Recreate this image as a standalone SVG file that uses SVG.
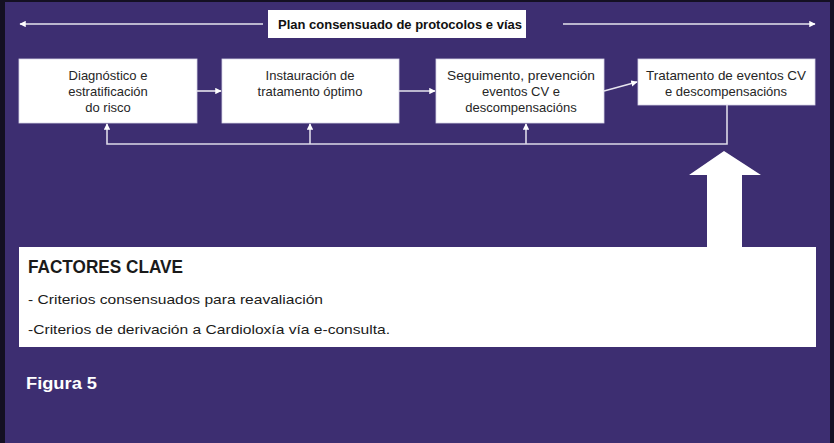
<svg xmlns="http://www.w3.org/2000/svg" width="834" height="443" viewBox="0 0 834 443">
  <style>
    .box { fill: #ffffff; stroke: #d8d4e8; stroke-width: 0.8; }
    .t { font-family: "Liberation Sans", Arial, sans-serif; font-size: 13px; fill: #262626; text-anchor: middle; }
    .title { font-family: "Liberation Sans", Arial, sans-serif; font-size: 12px; font-weight: bold; fill: #111; text-anchor: middle; }
    .con { stroke: #e6e4ee; stroke-width: 1.6; fill: none; }
    .fb { stroke: #dcd9e8; stroke-width: 1.6; fill: none; }
    .kt { font-family: "Liberation Sans", Arial, sans-serif; fill: #1a1a1a; }
  </style>
  <defs>
    <marker id="ah" viewBox="0 0 10 10" refX="9" refY="5" markerWidth="4" markerHeight="4" orient="auto" markerUnits="strokeWidth">
      <path d="M0,0 L10,5 L0,10 z" fill="#ffffff"/>
    </marker>
  </defs>
  <rect x="0" y="0" width="834" height="443" fill="#141022"/>
  <rect x="5" y="2" width="825" height="441" fill="#3d2e71"/>

  <g id="title">
    <rect x="268" y="10" width="258" height="28" fill="#ffffff"/>
    <text class="title" x="400" y="28.5" textLength="244" lengthAdjust="spacingAndGlyphs">Plan consensuado de protocolos e vías</text>
  </g>

  <g id="node1">
    <rect class="box" x="19" y="59" width="178" height="64"/>
    <text class="t" x="108" y="80">Diagnóstico e</text>
    <text class="t" x="108" y="96">estratificación</text>
    <text class="t" x="108" y="111.5">do risco</text>
  </g>
  <g id="node2">
    <rect class="box" x="222" y="59" width="177" height="64"/>
    <text class="t" x="310" y="80">Instauración de</text>
    <text class="t" x="310" y="96">tratamento óptimo</text>
  </g>
  <g id="node3">
    <rect class="box" x="436" y="59" width="168" height="64"/>
    <text class="t" x="521" y="80" textLength="148" lengthAdjust="spacingAndGlyphs">Seguimento, prevención</text>
    <text class="t" x="521" y="96">eventos CV e</text>
    <text class="t" x="521" y="111.5">descompensacións</text>
  </g>
  <g id="node4">
    <rect class="box" x="638" y="59" width="177" height="46"/>
    <text class="t" x="726" y="80" textLength="160" lengthAdjust="spacingAndGlyphs">Tratamento de eventos CV</text>
    <text class="t" x="726" y="96">e descompensacións</text>
  </g>

  <g id="connectors">
    <line class="con" x1="263" y1="24" x2="20" y2="24" marker-end="url(#ah)"/>
    <line class="con" x1="563" y1="24" x2="815" y2="24" marker-end="url(#ah)"/>
    <line class="con" x1="197" y1="91" x2="221" y2="91" marker-end="url(#ah)"/>
    <line class="con" x1="399" y1="91" x2="435" y2="91" marker-end="url(#ah)"/>
    <line class="con" x1="604" y1="91" x2="637" y2="82" marker-end="url(#ah)"/>
    <polyline class="fb" points="727,105 727,144 107,144 107,124" marker-end="url(#ah)"/>
    <line class="fb" x1="310" y1="144" x2="310" y2="124" marker-end="url(#ah)"/>
    <line class="fb" x1="526" y1="144" x2="526" y2="124" marker-end="url(#ah)"/>
  </g>

  <g id="bigArrow">
    <polygon points="724,151 761,175 742,175 742,248 707,248 707,175 689,175" fill="#ffffff"/>
  </g>

  <g id="factores">
    <rect x="19" y="247" width="797" height="100" fill="#ffffff"/>
    <text class="kt" x="28" y="273" font-size="18" font-weight="bold" textLength="155" lengthAdjust="spacingAndGlyphs">FACTORES CLAVE</text>
    <text class="kt" x="28" y="303.5" font-size="13.5" textLength="295" lengthAdjust="spacingAndGlyphs">- Criterios consensuados  para reavaliación</text>
    <text class="kt" x="28" y="333.5" font-size="13.5" textLength="362" lengthAdjust="spacingAndGlyphs">-Criterios de derivación a Cardioloxía vía e-consulta.</text>
  </g>

  <text x="26" y="389" font-family="'Liberation Sans', Arial, sans-serif" font-size="16" font-weight="bold" fill="#ffffff" textLength="71" lengthAdjust="spacingAndGlyphs">Figura 5</text>
</svg>
